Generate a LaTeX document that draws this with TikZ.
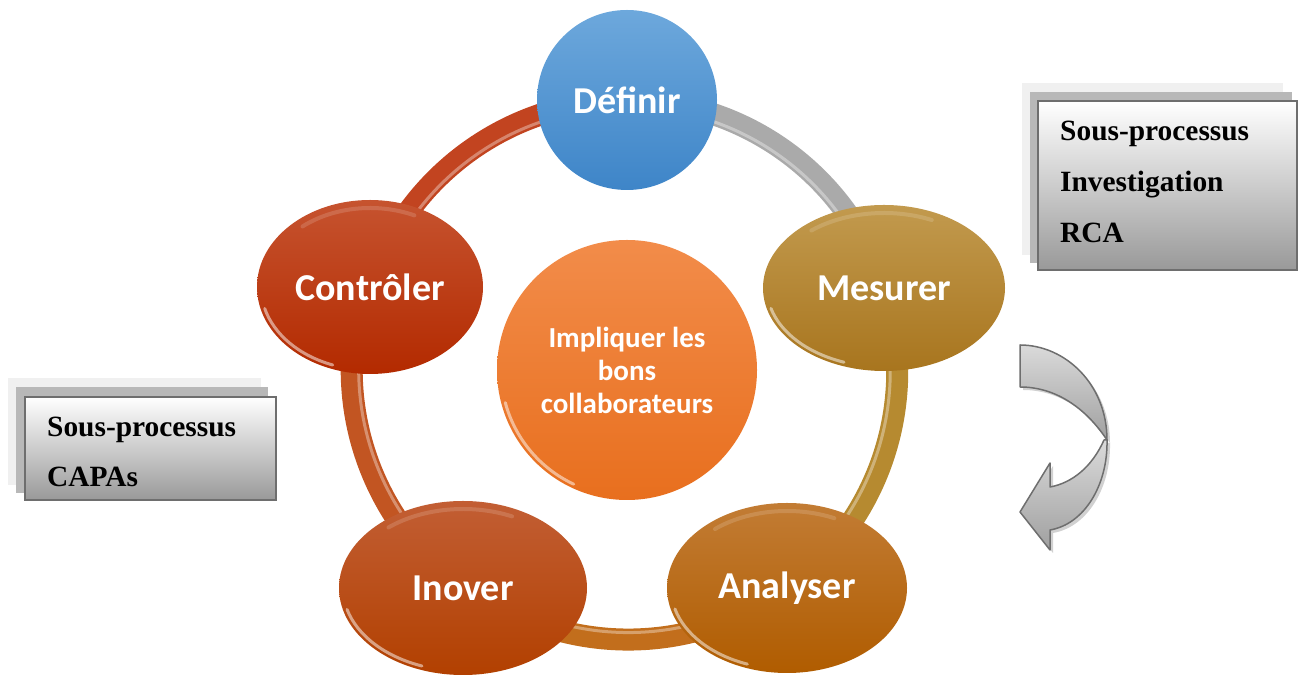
\documentclass[tikz,border=0pt]{standalone}
\usepackage{fontspec}
\setmainfont{Liberation Serif}
\newfontfamily\calib{Carlito}
\usetikzlibrary{shapes.geometric}
\pgfdeclarelayer{background}
\pgfsetlayers{background,main}
\definecolor{defTop}{HTML}{6DA8DC}
\definecolor{defBot}{HTML}{3E85C8}
\definecolor{mesTop}{HTML}{C29A4E}
\definecolor{mesBot}{HTML}{A8751E}
\definecolor{anaTop}{HTML}{C27C34}
\definecolor{anaBot}{HTML}{B05C00}
\definecolor{inoTop}{HTML}{C25E34}
\definecolor{inoBot}{HTML}{B24000}
\definecolor{conTop}{HTML}{C6532F}
\definecolor{conBot}{HTML}{B32A00}
\definecolor{cenTop}{HTML}{F28C4A}
\definecolor{cenBot}{HTML}{E86F1E}
\definecolor{segGray}{HTML}{AAAAAA}
\definecolor{segGold}{HTML}{B68A30}
\definecolor{segBot}{HTML}{C26E1C}
\definecolor{segLeft}{HTML}{C25522}
\definecolor{segRed}{HTML}{C24420}
\definecolor{boxedge}{HTML}{6E6E6E}
\definecolor{boxbot}{HTML}{999999}
\definecolor{boxmid}{HTML}{B8B8B8}
\definecolor{boxback}{HTML}{F0F0F0}
\definecolor{arrTop}{HTML}{DADADA}
\definecolor{arrBot}{HTML}{A0A0A0}
\definecolor{arrEdge}{HTML}{6E6E6E}
\begin{document}
\begin{tikzpicture}[x=1pt,y=1pt,
  bubble/.style={ellipse, inner sep=0pt, text=white, font=\calib\bfseries\fontsize{38}{42}\selectfont},
  seg/.style={line width=22pt},
  seghl/.style={white, opacity=0.35, line width=3pt},
  gloss/.style={white, opacity=0.5, line width=3pt, line cap=round},
  mainbox/.style={draw=boxedge, line width=2pt, top color=white, bottom color=boxbot},
  boxtxt/.style={anchor=base west, inner sep=0pt, font=\bfseries\fontsize{29.4}{34}\selectfont},
  arrowshape/.style={draw=arrEdge, line width=1.5pt, line join=round, top color=arrTop, bottom color=arrBot},
  arrowshadow/.style={fill=black, opacity=0.18},
]
\useasboundingbox (0,0) rectangle (1304,679);

\coordinate (o) at (627,309);

% nodes of the cycle
\node[bubble, circle, minimum size=180pt, top color=defTop, bottom color=defBot] (def) at (627,579) {Définir};
\node[bubble, minimum width=242pt, minimum height=166pt, top color=mesTop, bottom color=mesBot] (mes) at (884,391) {Mesurer};
\node[bubble, minimum width=240pt, minimum height=170pt, top color=anaTop, bottom color=anaBot] (ana) at (787,91) {Analyser};
\node[bubble, minimum width=248pt, minimum height=174pt, top color=inoTop, bottom color=inoBot] (ino) at (463,91) {Inover};
\node[bubble, minimum width=226pt, minimum height=174pt, top color=conTop, bottom color=conBot] (con) at (370,392) {Contrôler};
\node[bubble, circle, minimum size=260pt, align=center, top color=cenTop, bottom color=cenBot,
      font=\calib\bfseries\fontsize{29}{33}\selectfont] (cen) at (627,309) {Impliquer les\\bons\\collaborateurs};

% glossy rims
\draw[gloss] ([shift={(195:117 and 79)}]mes.center) arc[start angle=195, end angle=250, x radius=117, y radius=79];
\draw[gloss] ([shift={(195:116 and 81)}]ana.center) arc[start angle=195, end angle=250, x radius=116, y radius=81];
\draw[gloss] ([shift={(195:120 and 83)}]ino.center) arc[start angle=195, end angle=250, x radius=120, y radius=83];
\draw[gloss] ([shift={(195:109 and 83)}]con.center) arc[start angle=195, end angle=250, x radius=109, y radius=83];
\draw[gloss] ([shift={(195:126 and 126)}]cen.center) arc[start angle=195, end angle=245, radius=126];
\draw[gloss, opacity=0.15, line width=4pt] ([shift={(65:113 and 75)}]mes.center) arc[start angle=65, end angle=130, x radius=113, y radius=75];
\draw[gloss, opacity=0.15, line width=4pt] ([shift={(65:112 and 77)}]ana.center) arc[start angle=65, end angle=130, x radius=112, y radius=77];
\draw[gloss, opacity=0.15, line width=4pt] ([shift={(65:116 and 79)}]ino.center) arc[start angle=65, end angle=130, x radius=116, y radius=79];
\draw[gloss, opacity=0.15, line width=4pt] ([shift={(65:105 and 79)}]con.center) arc[start angle=65, end angle=130, x radius=105, y radius=79];

% ring connectors
\begin{pgfonlayer}{background}
\draw[seg, segGray] (def.center) arc[start angle=90, end angle=18, radius=270];
\draw[seg, segGold] (mes.center) arc[start angle=18, end angle=-54, radius=270];
\draw[seg, segBot] (ana.center) arc[start angle=-54, end angle=-126, radius=270];
\draw[seg, segLeft] (ino.center) arc[start angle=-126, end angle=-198, radius=270];
\draw[seg, segRed] (con.center) arc[start angle=162, end angle=90, radius=270];
\draw[seghl] ([shift={(90:-7)}]def.center) arc[start angle=90, end angle=18, radius=263];
\draw[seghl] ([shift={(18:-7)}]mes.center) arc[start angle=18, end angle=-54, radius=263];
\draw[seghl] ([shift={(-54:-7)}]ana.center) arc[start angle=-54, end angle=-126, radius=263];
\draw[seghl] ([shift={(-126:-7)}]ino.center) arc[start angle=-126, end angle=-198, radius=263];
\draw[seghl] ([shift={(162:-7)}]con.center) arc[start angle=162, end angle=90, radius=263];
\end{pgfonlayer}

% top-right box
\fill[boxback] (1022,424) rectangle (1283,596);
\fill[boxmid] (1030,416) rectangle (1292,587);
\path[mainbox] (1038,409) rectangle (1297,578);
\node[boxtxt] (r1) at (1060,538) {Sous-processus};
\node[boxtxt] (r2) at (1060,487) {Investigation};
\node[boxtxt] (r3) at (1060,436) {RCA};

% left box
\fill[boxback] (8,194) rectangle (261,301);
\fill[boxmid] (16,186) rectangle (268,292);
\path[mainbox] (25,179) rectangle (276,282);
\node[boxtxt] (l1) at (47,242) {Sous-processus};
\node[boxtxt] (l2) at (47,192) {CAPAs};

% curved arrow
\begin{scope}[shift={(3,-3)}]
\path[arrowshadow] (1020,334) .. controls (1065,334) and (1107,295) .. (1107,239) .. controls (1085,272) and (1055,292) .. (1020,292) -- cycle;
\path[arrowshadow] (1104,239) .. controls (1092,212) and (1072,196) .. (1050,192) -- (1050,216) -- (1020,167) -- (1050,129) -- (1050,149) .. controls (1085,155) and (1108,195) .. (1107,239) -- cycle;
\end{scope}
\path[arrowshape] (1020,334) .. controls (1065,334) and (1107,295) .. (1107,239) .. controls (1085,272) and (1055,292) .. (1020,292) -- cycle;
\path[arrowshape] (1104,239) .. controls (1092,212) and (1072,196) .. (1050,192) -- (1050,216) -- (1020,167) -- (1050,129) -- (1050,149) .. controls (1085,155) and (1108,195) .. (1107,239) -- cycle;
\end{tikzpicture}
\end{document}
